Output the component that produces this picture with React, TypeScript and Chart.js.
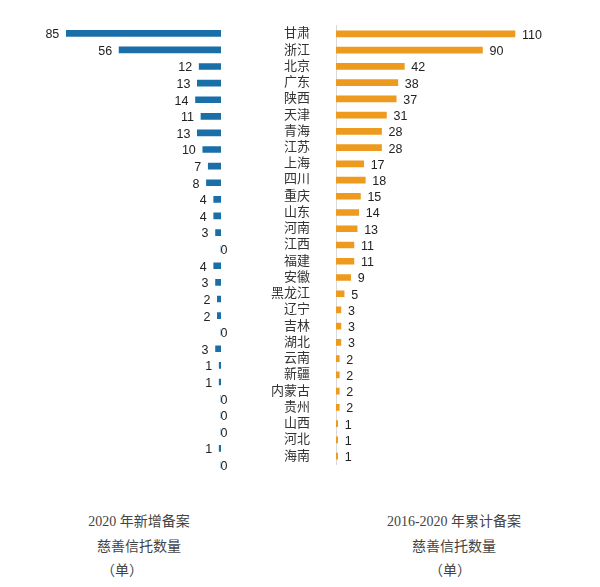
import React, { useEffect, useRef } from "react";
import { Chart, registerables } from "chart.js";

Chart.register(...registerables);

const provinces = ["甘肃","浙江","北京","广东","陕西","天津","青海","江苏","上海","四川","重庆","山东","河南","江西","福建","安徽","黑龙江","辽宁","吉林","湖北","云南","新疆","内蒙古","贵州","山西","河北","海南"];
const new2020 = [85,56,12,13,14,11,13,10,7,8,4,4,3,0,4,3,2,2,0,3,1,1,0,0,0,1,0];
const total2016to2020 = [110,90,42,38,37,31,28,28,17,18,15,14,13,11,11,9,5,3,3,3,2,2,2,2,1,1,1];

const leftTitle = ["2020 年新增备案", "慈善信托数量", "（单）"];
const rightTitle = ["2016-2020 年累计备案", "慈善信托数量", "（单）"];

const BLUE = "#1b6fa8";
const ORANGE = "#ee9a1f";
const VALUE_FONT = '12.5px "Liberation Sans", Arial, sans-serif';
const SERIF_CJK = '"Liberation Serif", "Noto Sans CJK SC", serif';

const valueLabels = (side: "left" | "right") => ({
  id: "valueLabels_" + side,
  afterDatasetsDraw(chart: any) {
    const ctx = chart.ctx;
    const meta = chart.getDatasetMeta(0);
    const data = chart.data.datasets[0].data as number[];
    ctx.save();
    ctx.font = VALUE_FONT;
    ctx.fillStyle = "#222";
    ctx.textBaseline = "middle";
    meta.data.forEach((bar: any, i: number) => {
      const v = data[i];
      const y = bar.y + 1.5;
      if (side === "left") {
        if (v === 0) {
          ctx.textAlign = "left";
          ctx.fillText(String(v), bar.base - 0.5, y);
        } else {
          ctx.textAlign = "right";
          ctx.fillText(String(v), bar.x - 7, y);
        }
      } else {
        ctx.textAlign = "left";
        ctx.fillText(String(v), bar.x + 7, y);
      }
    });
    ctx.restore();
  },
});

function LeftChart() {
  const ref = useRef<HTMLCanvasElement>(null);
  useEffect(() => {
    const chart = new Chart(ref.current!, {
      type: "bar",
      data: {
        labels: provinces,
        datasets: [{ data: new2020, backgroundColor: BLUE, barThickness: 6, borderWidth: 0 }],
      },
      options: {
        indexAxis: "y",
        animation: false,
        responsive: false,
        layout: { padding: { left: 39, right: 19, top: 25, bottom: 16.7 } },
        plugins: { legend: { display: false }, tooltip: { enabled: false } },
        scales: {
          x: { display: false, reverse: true, min: 0, max: 100 },
          y: { display: false },
        },
      },
      plugins: [valueLabels("left")],
    });
    return () => chart.destroy();
  }, []);
  return <canvas ref={ref} width={240} height={490} style={{ position: "absolute", left: 0, top: 0 }} />;
}

function RightChart() {
  const ref = useRef<HTMLCanvasElement>(null);
  useEffect(() => {
    const chart = new Chart(ref.current!, {
      type: "bar",
      data: {
        labels: provinces,
        datasets: [{ data: total2016to2020, backgroundColor: ORANGE, barThickness: 6, borderWidth: 0 }],
      },
      options: {
        indexAxis: "y",
        animation: false,
        responsive: false,
        layout: { padding: { left: 0, right: 36.2, top: 25, bottom: 16.7 } },
        plugins: { legend: { display: false }, tooltip: { enabled: false } },
        scales: {
          x: { display: false, min: 0, max: 140 },
          y: {
            display: true,
            afterFit: (scale: any) => { scale.width = 86; },
            grid: { display: false },
            border: { display: true, color: "#d9d9d9", width: 1 },
            ticks: {
              autoSkip: false,
              padding: 18,
              color: "#333",
              font: { family: SERIF_CJK, size: 13 },
            },
          },
        },
      },
      plugins: [valueLabels("right")],
    });
    return () => chart.destroy();
  }, []);
  return <canvas ref={ref} width={350} height={490} style={{ position: "absolute", left: 250, top: 0 }} />;
}

function TitleBlock({ lines, centers }: { lines: string[]; centers: number[] }) {
  const ys = [522, 547, 571];
  return (
    <>
      {lines.map((t, i) => (
        <div
          key={i}
          style={{
            position: "absolute",
            left: centers[i] - 100,
            width: 200,
            top: ys[i] - 10,
            height: 20,
            lineHeight: "20px",
            textAlign: "center",
            fontFamily: SERIF_CJK,
            fontSize: 14,
            color: "#444",
            whiteSpace: "nowrap",
          }}
        >
          {t}
        </div>
      ))}
    </>
  );
}

export default function App() {
  return (
    <div style={{ position: "absolute", left: 0, top: 0, width: 600, height: 587, background: "#fff", overflow: "hidden" }}>
      <LeftChart />
      <RightChart />
      <TitleBlock lines={leftTitle} centers={[139, 139, 122]} />
      <TitleBlock lines={rightTitle} centers={[454, 454, 450]} />
    </div>
  );
}
